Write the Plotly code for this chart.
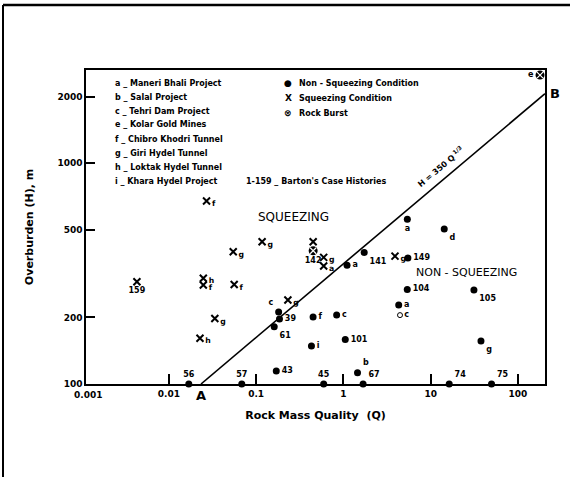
import math
import plotly.graph_objects as go

# ---------------- data ----------------
# Non-squeezing condition (filled dots)
ns_Q = [5.4, 14.3, 1.73, 1.10, 5.48, 5.39, 31.3, 4.3, 0.449, 0.836, 1.05, 0.43,
        37.7, 1.45, 1.68, 0.594, 16.3, 49.8, 0.0169, 0.0684, 0.17, 0.181, 0.185, 0.161]
ns_H = [556, 503, 394, 345, 372, 268, 266, 228, 201, 205, 159, 148.6,
        156.6, 112.5, 100, 100, 100, 100, 100, 100, 114.5, 212, 197, 181.5]
ns_label = ["a", "d", "141", "a", "149", "104", "105", "a", "f", "c", "101", "i",
            "g", "b", "67", "45", "74", "75", "56", "57", "43", "c", "39", "61"]

# Non-squeezing, small open circle
nso_Q = [4.45]
nso_H = [205]
nso_label = ["c"]

# Squeezing condition (X)
sq_Q = [0.027, 0.117, 0.0546, 0.0043, 0.0248, 0.0248, 0.056, 0.231, 0.0336,
        0.0227, 0.45, 0.594, 0.594, 3.9]
sq_H = [673, 440, 397, 290, 301, 280.5, 282, 240, 198,
        161, 440, 374, 342, 379]
sq_label = ["f", "g", "g", "159", "h", "f", "f", "g", "g",
            "h", "", "g", "a", "g"]

# Rock burst
rb_Q = [0.45, 179]
rb_H = [401, 2500]
rb_label = ["142", "e"]

# Boundary line H = 350 Q^(1/3)
line_coef = 350
line_exp = 1 / 3
line_Q = [(100 / line_coef) ** 3, 10 ** 2.31]

x_ticks = [0.01, 0.1, 1, 10, 100]
x_ticktext = ["0.01", "0.1", "1", "10", "100"]
y_ticks = [100, 200, 500, 1000, 2000]
y_ticktext = ["100", "200", "500", "1000", "2000"]

projects = ["a _ Maneri Bhali Project", "b _ Salal Project", "c _ Tehri Dam Project",
            "e _ Kolar Gold Mines", "f _ Chibro Khodri Tunnel", "g _ Giri Hydel Tunnel",
            "h _ Loktak Hydel Tunnel", "i _ Khara Hydel Project"]

# ---------------- styling / positions ----------------
ns_pos = ["bottom center", "bottom right", "bottom right", "middle right", "middle right",
          "middle right", "bottom right", "middle right", "middle right", "middle right",
          "middle right", "middle right", "bottom right", "top right", "top right",
          "top center", "top right", "top right", "top center", "top center",
          "middle right", "top left", "middle right", "bottom right"]
sq_text = [("<sub>" + s + "</sub>") if len(s) == 1 else s for s in sq_label]
sq_pos = ["middle right" if len(s) <= 1 else "bottom center" for s in sq_label]
sq_size = [11 if len(s) <= 1 else 8 for s in sq_label]
rb_pos = ["bottom center", "middle left"]

W, H = 570, 477
ML, MR, MT, MB = 86, 25, 70, 93
PW, PH = W - ML - MR, H - MT - MB


def px(xp):
    return (xp - ML) / PW


def py(yp):
    return (H - MB - yp) / PH


FONT = "DejaVu Sans"
LBL = dict(family=FONT, size=8, color="black", weight="bold")
fig = go.Figure()

line_H = [line_coef * q ** line_exp for q in line_Q]
fig.add_trace(go.Scatter(x=line_Q, y=line_H, mode="lines",
                         line=dict(color="black", width=1.6), hoverinfo="skip"))

fig.add_trace(go.Scatter(x=ns_Q, y=ns_H, mode="markers+text", text=ns_label,
                         textposition=ns_pos, textfont=LBL, cliponaxis=False,
                         marker=dict(symbol="circle", size=7, color="black")))

fig.add_trace(go.Scatter(x=nso_Q, y=nso_H, mode="markers+text", text=nso_label,
                         textposition="middle right", textfont=LBL,
                         marker=dict(symbol="circle-open", size=5, color="black",
                                     line=dict(width=1, color="black"))))

fig.add_trace(go.Scatter(x=sq_Q, y=sq_H, mode="markers+text", text=sq_text,
                         textposition=sq_pos,
                         textfont=dict(family=FONT, size=sq_size, color="black", weight="bold"),
                         marker=dict(symbol="x-thin", size=7, color="black",
                                     line=dict(width=2, color="black"))))

fig.add_trace(go.Scatter(x=rb_Q, y=rb_H, mode="markers+text", text=rb_label,
                         textposition=rb_pos, textfont=LBL, cliponaxis=False,
                         marker=dict(symbol="circle", size=9, color="black")))
fig.add_trace(go.Scatter(x=rb_Q, y=rb_H, mode="markers", cliponaxis=False,
                         marker=dict(symbol="x-thin", size=6, color="white",
                                     line=dict(width=1.2, color="white"))))

ann = []
TXT = dict(family=FONT, size=8, color="black", weight="bold")
for i, t in enumerate(projects):
    ann.append(dict(xref="paper", yref="paper", x=px(113), y=py(83 + i * 14.0),
                    text=t, showarrow=False, xanchor="left", yanchor="middle", font=TXT))
ann.append(dict(xref="paper", yref="paper", x=px(244), y=py(181),
                text="1-159 _ Barton's Case Histories", showarrow=False,
                xanchor="left", yanchor="middle", font=TXT))
leg = [("●", "Non - Squeezing Condition", 83), ("X", "Squeezing Condition", 98),
       ("⊗", "Rock Burst", 113)]
for sym, t, yy in leg:
    ann.append(dict(xref="paper", yref="paper", x=px(288), y=py(yy), text=sym,
                    showarrow=False, xanchor="center", yanchor="middle",
                    font=dict(family=FONT, size=9, color="black", weight="bold")))
    ann.append(dict(xref="paper", yref="paper", x=px(297), y=py(yy), text=t,
                    showarrow=False, xanchor="left", yanchor="middle", font=TXT))

ann.append(dict(xref="paper", yref="paper", x=px(293), y=py(217), text="SQUEEZING",
                showarrow=False, xanchor="center", yanchor="middle",
                font=dict(family=FONT, size=12, color="black")))
ann.append(dict(xref="paper", yref="paper", x=px(466), y=py(272), text="NON - SQUEEZING",
                showarrow=False, xanchor="center", yanchor="middle",
                font=dict(family=FONT, size=11, color="black")))
ann.append(dict(xref="paper", yref="paper", x=px(440), y=py(167),
                text="H = 350 Q<sup> 1/3</sup>", textangle=-40,
                showarrow=False, xanchor="center", yanchor="middle",
                font=dict(family=FONT, size=8, color="black", weight="bold")))
ann.append(dict(xref="x", yref="paper", x=math.log10(line_Q[0]), y=py(395), text="A",
                showarrow=False, xanchor="center", yanchor="middle",
                font=dict(family=FONT, size=13, color="black", weight="bold")))
ann.append(dict(xref="paper", yref="y", x=1.006, y=math.log10(line_H[1]), text="B",
                showarrow=False, xanchor="left", yanchor="middle",
                font=dict(family=FONT, size=13, color="black", weight="bold")))
ann.append(dict(xref="paper", yref="paper", x=0.005, y=py(395), text="0.001",
                showarrow=False, xanchor="center", yanchor="middle",
                font=dict(family=FONT, size=9, color="black", weight="bold")))

shapes = [
    dict(type="line", xref="paper", yref="paper", x0=px(3), x1=px(570), y0=py(5), y1=py(5),
         line=dict(color="black", width=2.5)),
    dict(type="line", xref="paper", yref="paper", x0=px(3), x1=px(3), y0=py(5), y1=py(477),
         line=dict(color="black", width=2)),
]

TICKF = dict(family=FONT, size=9, color="black", weight="bold")
TITF = dict(family=FONT, size=11, color="black", weight="bold")
fig.update_layout(
    width=W, height=H, margin=dict(l=ML, r=MR, t=MT, b=MB),
    paper_bgcolor="white", plot_bgcolor="white", showlegend=False,
    font=dict(family=FONT, size=10, color="black"),
    annotations=ann, shapes=shapes,
    xaxis=dict(type="log", range=[-2.95, 2.31], tickvals=x_ticks, ticktext=x_ticktext,
               ticks="inside", ticklen=10, tickwidth=1.5, tickcolor="black", tickfont=TICKF,
               showline=True, linecolor="black", linewidth=1.5, mirror=True,
               showgrid=False, zeroline=False,
               title=dict(text="Rock Mass Quality  (Q)", font=TITF, standoff=14)),
    yaxis=dict(type="log", range=[2, 3.421], tickvals=y_ticks, ticktext=y_ticktext,
               ticks="inside", ticklen=9, tickwidth=1.5, tickcolor="black", tickfont=TICKF,
               showline=True, linecolor="black", linewidth=1.5, mirror=True,
               showgrid=False, zeroline=False,
               title=dict(text="Overburden (H), m", font=TITF, standoff=22)),
)

fig.write_html("out.html")
